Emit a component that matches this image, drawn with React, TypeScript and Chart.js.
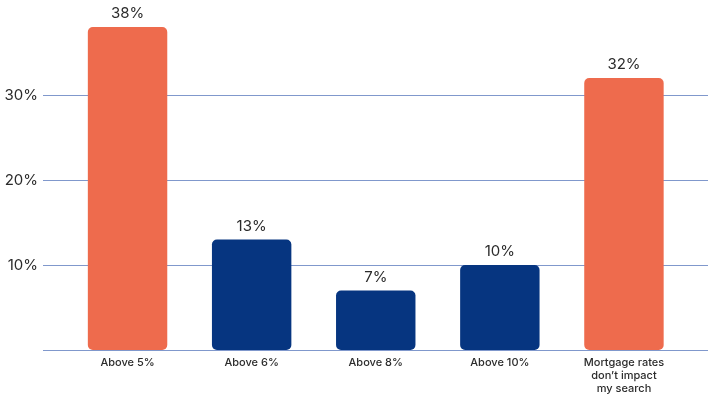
import React, { useEffect, useRef } from "react";
import { Chart, registerables } from "chart.js";

Chart.register(...registerables);

const categories: (string | string[])[] = [
  "Above 5%",
  "Above 6%",
  "Above 8%",
  "Above 10%",
  ["Mortgage rates", "don\u2019t impact", "my search"],
];
const values = [38, 13, 7, 10, 32];
const barColors = ["#EE6B4D", "#063580", "#063580", "#063580", "#EE6B4D"];
const yTicks = [0, 10, 20, 30];

const FONT = "Inter, 'Noto Sans', sans-serif";

const gridPlugin = {
  id: "gridExt",
  beforeDatasetsDraw(chart: any) {
    const { ctx } = chart;
    const y = chart.scales.y;
    ctx.save();
    ctx.strokeStyle = "#8098CC";
    ctx.lineWidth = 1.2;
    yTicks.forEach((v) => {
      const py = Math.round(y.getPixelForValue(v)) + 0.5;
      ctx.beginPath();
      ctx.moveTo(43, py);
      ctx.lineTo(chart.width, py);
      ctx.stroke();
    });
    ctx.restore();
  },
};

const labelPlugin = {
  id: "barLabels",
  afterDatasetsDraw(chart: any) {
    const { ctx } = chart;
    const meta = chart.getDatasetMeta(0);
    ctx.save();
    ctx.fillStyle = "#2b2b2b";
    ctx.font = `400 15px ${FONT}`;
    ctx.textAlign = "center";
    ctx.textBaseline = "bottom";
    meta.data.forEach((bar: any, i: number) => {
      ctx.fillText(values[i] + "%", bar.x, bar.y - 6);
    });
    ctx.restore();
  },
};

export default function App() {
  const ref = useRef<HTMLCanvasElement>(null);
  useEffect(() => {
    document.body.style.margin = "0";
    const chart = new Chart(ref.current!, {
      type: "bar",
      data: {
        labels: categories as any,
        datasets: [
          {
            data: values,
            backgroundColor: barColors,
            borderRadius: 5,
            borderSkipped: false,
            categoryPercentage: 1,
            barPercentage: 0.64,
          },
        ],
      },
      options: {
        animation: false,
        responsive: false,
        layout: { padding: { top: 10, right: 22, left: 0, bottom: 0 } },
        plugins: { legend: { display: false }, tooltip: { enabled: false } },
        scales: {
          x: {
            grid: { display: false, drawTicks: false },
            border: { display: false },
            ticks: {
              color: "#2b2b2b",
              font: { family: FONT, size: 11, weight: 500 as any, lineHeight: 1.18 },
              padding: 6,
              maxRotation: 0,
              autoSkip: false,
            },
            afterFit: (axis: any) => {
              axis.height = 44;
              axis.paddingLeft = 0;
              axis.paddingRight = 0;
            },
          },
          y: {
            min: 0,
            max: 40,
            grid: { display: false, drawTicks: false },
            border: { display: false },
            ticks: {
              stepSize: 10,
              color: "#2b2b2b",
              font: { family: FONT, size: 15 },
              padding: 27.5,
              callback: (v: any) => (yTicks.includes(v) && v !== 0 ? v + "%" : ""),
            },
            afterFit: (axis: any) => {
              axis.width = 65.5;
              axis.paddingTop = 0;
              axis.paddingBottom = 0;
            },
          },
        },
      },
      plugins: [gridPlugin, labelPlugin],
    });
    return () => chart.destroy();
  }, []);
  return (
    <div style={{ position: "fixed", left: 0, top: 0, width: 708, height: 394, background: "#fff" }}>
      <canvas ref={ref} width={708} height={394} style={{ width: 708, height: 394 }} />
    </div>
  );
}
